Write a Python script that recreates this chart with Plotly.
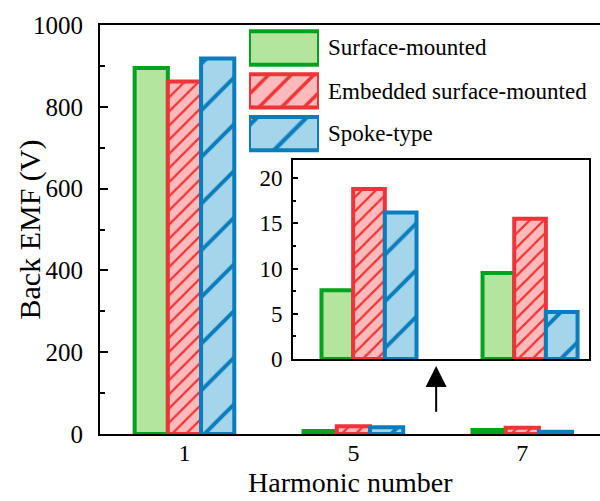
import plotly.graph_objects as go

# Back EMF harmonic amplitudes (V) for three rotor topologies
harmonics = ["1", "5", "7"]
series_names = ["Surface-mounted", "Embedded surface-mounted", "Spoke-type"]
surface_mounted = [895, 7.6, 9.5]
embedded_surface = [862, 18.8, 15.5]
spoke_type = [918, 16.2, 5.2]

# zoomed view of the higher harmonics
inset_harmonics = ["5", "7"]
inset_surface = [7.6, 9.5]
inset_embedded = [18.8, 15.5]
inset_spoke = [16.2, 5.2]

FONT = "Liberation Serif"

styles = [
    dict(line="#00A21E", fill="#B3E59E", shape="", size=10, solidity=0.2),
    dict(line="#EE3438", fill="#FFBBBB", shape="/", size=10, solidity=0.22),
    dict(line="#0A7DBD", fill="#A4D5EA", shape="/", size=33, solidity=0.12),
]
legend_sizes = [10, 16, 35]

main_vals = [surface_mounted, embedded_surface, spoke_type]
inset_vals = [inset_surface, inset_embedded, inset_spoke]

fig = go.Figure()


def bar_marker(st, size=None):
    m = dict(color=st["fill"], line=dict(color=st["line"], width=4))
    if st["shape"]:
        m["pattern"] = dict(shape=st["shape"], size=size or st["size"],
                            solidity=st["solidity"], fgcolor=st["line"],
                            bgcolor=st["fill"], fillmode="replace")
    return m


for name, vals, st in zip(series_names, main_vals, styles):
    fig.add_trace(go.Bar(x=harmonics, y=vals, name=name, marker=bar_marker(st),
                         showlegend=False, xaxis="x", yaxis="y"))

for name, vals, st in zip(series_names, inset_vals, styles):
    fig.add_trace(go.Bar(x=inset_harmonics, y=vals, name=name, marker=bar_marker(st),
                         showlegend=False, xaxis="x2", yaxis="y2"))

# legend swatches drawn as bars so they carry the same hatching
legend_text_y = [0.9438, 0.8386, 0.7335]
for i, (name, st, ls) in enumerate(zip(series_names, styles, legend_sizes)):
    fig.add_trace(go.Bar(x=[1], y=[i], base=0, orientation="h", width=0.78, offset=-0.39,
                         marker=bar_marker(st, ls), showlegend=False,
                         xaxis="x3", yaxis="y3", hoverinfo="skip"))
    fig.add_annotation(xref="paper", yref="paper", x=0.451, y=legend_text_y[i],
                       text=name, showarrow=False, xanchor="left", yanchor="middle",
                       font=dict(family=FONT, size=23, color="black"))

axis_common = dict(showline=True, linecolor="black", linewidth=2, showgrid=False,
                   zeroline=False)

fig.update_layout(
    width=600, height=501,
    margin=dict(l=100, r=0, t=25, b=67),
    paper_bgcolor="white", plot_bgcolor="white",
    barmode="group", bargap=0.41, bargroupgap=0,
    font=dict(family=FONT, color="black"),
    xaxis=dict(**axis_common, type="category", range=[-0.5, 2.46], mirror=True,
               ticks="", tickfont=dict(size=24), ticklabelstandoff=-4, domain=[0, 1]),
    yaxis=dict(**axis_common, range=[0, 1000], dtick=200, ticks="inside", ticklen=8,
               tickwidth=2, tickcolor="black", tickfont=dict(size=25),
               ticklabelstandoff=10,
               minor=dict(ticks="inside", ticklen=5, dtick=100, tickwidth=2,
                          tickcolor="black")),
    xaxis2=dict(**axis_common, type="category", range=[-0.472, 1.366], mirror=True,
                ticks="", showticklabels=False, domain=[0.386, 0.978], anchor="y2"),
    yaxis2=dict(**axis_common, range=[0, 22], dtick=5, mirror=True, ticks="inside",
                ticklen=5, tickwidth=2, tickcolor="black", tickfont=dict(size=23),
                ticklabelstandoff=4,
                minor=dict(ticks="inside", ticklen=3, dtick=2.5, tickwidth=1.5,
                           tickcolor="black"),
                domain=[0.1834, 0.6699], anchor="x2"),
    xaxis3=dict(range=[0, 1], domain=[0.298, 0.438], visible=False, anchor="y3"),
    yaxis3=dict(range=[2.5, -0.5], domain=[0.682, 0.996], visible=False, anchor="x3"),
)

# axis titles
fig.add_annotation(xref="paper", yref="paper", x=-0.142, y=0.5, text="Back EMF (V)",
                   textangle=-90, showarrow=False, xanchor="center", yanchor="middle",
                   font=dict(family=FONT, size=30, color="black"))
fig.add_annotation(xref="paper", yref="paper", x=0.5, y=-0.1614, text="Harmonic number",
                   showarrow=False, xanchor="center", yanchor="bottom",
                   font=dict(family=FONT, size=28, color="black"))

# arrow pointing up from the small harmonics to the zoomed view
fig.add_annotation(xref="x", yref="y", x=1.49, y=166, axref="x", ayref="y",
                   ax=1.49, ay=51, text="", showarrow=True, arrowhead=2,
                   arrowsize=2.1, arrowwidth=2, arrowcolor="black", standoff=0)

fig.write_html("out.html")
